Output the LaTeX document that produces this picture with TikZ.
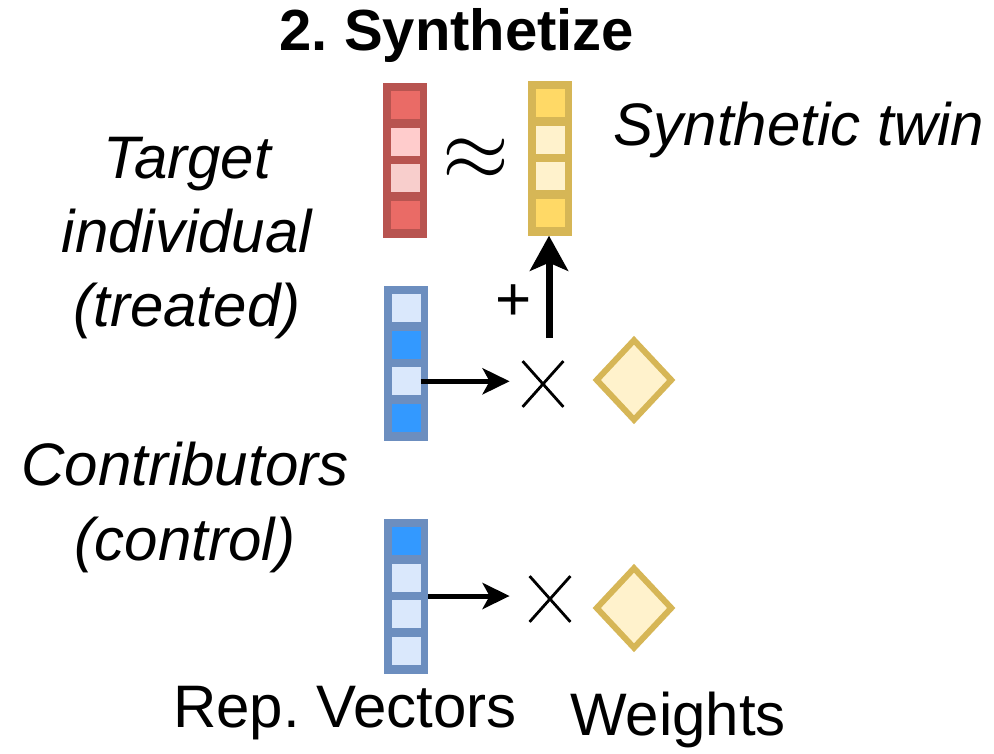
\documentclass[tikz,border=0pt]{standalone}
\usepackage{fontspec}
\setmainfont{Liberation Sans}
\frenchspacing
\usetikzlibrary{calc}
\usetikzlibrary{positioning}
\usetikzlibrary{shapes.geometric,shapes.misc,arrows.meta}

\definecolor{redline}{HTML}{B85450}
\definecolor{reddark}{HTML}{EA6B66}
\definecolor{redlight}{HTML}{FFCCCC}
\definecolor{redpale}{HTML}{F8CECC}
\definecolor{yelline}{HTML}{D6B656}
\definecolor{yeldark}{HTML}{FFD966}
\definecolor{yellight}{HTML}{FFF2CC}
\definecolor{blueline}{HTML}{6C8EBF}
\definecolor{bluedark}{HTML}{3399FF}
\definecolor{bluelight}{HTML}{DAE8FC}

\tikzstyle{vecnode} = [rectangle, inner sep=0pt, minimum width=44pt, minimum height=155pt]
\tikzstyle{cellnode} = [rectangle, inner sep=0pt, minimum width=29pt, minimum height=28pt]
\tikzstyle{weightnode} = [diamond, draw=yelline, fill=yellight, line width=6pt, inner sep=0pt, minimum width=77pt, minimum height=82pt]
\tikzstyle{mulnode} = [cross out, draw, line width=2.8pt, inner sep=0pt, minimum width=38pt, minimum height=43pt]
\tikzstyle{labelnode} = [inner sep=0pt, align=center, font=\fontsize{60}{74}\selectfont]
\tikzstyle{vecarrow} = [line width=5pt, -{Stealth[length=27pt, width=26pt, inset=7pt]}]

\begin{document}
\begin{tikzpicture}[x=1pt, y=-1pt]
  \useasboundingbox (0,0) rectangle (994,753);

  % representation vectors
  \node[vecnode, fill=redline] (target) at (405,160) {};
  \node[vecnode, fill=yelline] (twin) at (550,158) {};
  \node[vecnode, fill=blueline] (contribA) at (406,363) {};
  \node[vecnode, fill=blueline] (contribB) at (406,596) {};

  \foreach \v/\cols in {target/{reddark,redlight,redpale,reddark},
                        twin/{yeldark,yellight,yellight,yeldark},
                        contribA/{bluelight,bluedark,bluelight,bluedark},
                        contribB/{bluedark,bluelight,bluelight,bluelight}}
    \foreach \c [count=\i] in \cols
      \node[cellnode, fill=\c] (\v-\i) at ([yshift={-23pt-(\i-1)*36.5pt}]\v.north) {};

  % weights and products
  \node[weightnode] (weightA) at (634,380) {};
  \node[weightnode] (weightB) at (634,608) {};
  \node[mulnode] (mulA) at (543,384) {};
  \node[mulnode] (mulB) at (550,599) {};

  \node[inner sep=0pt, scale=8.6] (approx) at (476,160) {$\approx$};
  \node[labelnode, font=\fontsize{62}{70}\selectfont] (plus) at (514,303) {+};
  \coordinate (sum) at (549,338);

  \draw[vecarrow, shorten >=13pt] (contribA-3.east) -- (contribA-3.east -| mulA.west);
  \draw[vecarrow, shorten >=20pt] (contribB.east) -- (contribB.east -| mulB.west);
  \draw[line width=7pt, -{Stealth[length=35pt, width=38pt, inset=8pt]}] (sum) -- (sum |- twin.south);

  % texts
  \node[labelnode, font=\fontsize{58}{70}\selectfont\bfseries] (title) at (457,36) {2. Synthetize};
  \node[labelnode, font=\fontsize{60}{74}\selectfont\itshape] (twinlabel) at (799,130) {Synthetic twin};
  \node[labelnode, font=\fontsize{60}{74}\selectfont\itshape] (targetlabel) at (187,238) {Target\\individual\\(treated)};
  \node[labelnode, font=\fontsize{60}{75}\selectfont\itshape] (contriblabel) at (185,507) {Contributors\\(control)};
  \node[labelnode] (veclabel) at (345,713) {Rep. Vectors};
  \node[labelnode] (weightlabel) at (678,720) {Weights};
\end{tikzpicture}
\end{document}
